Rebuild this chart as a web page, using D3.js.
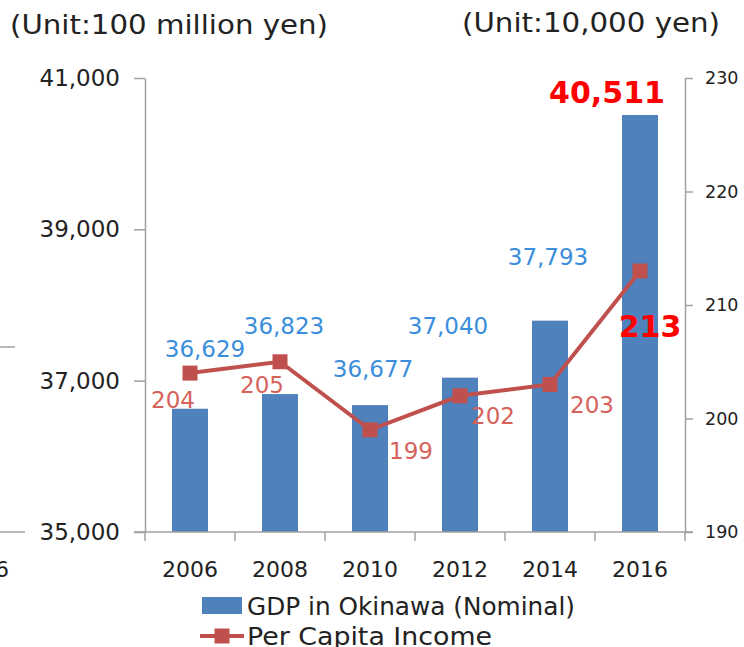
<!DOCTYPE html>
<html>
<head>
<meta charset="utf-8">
<script src="https://cdn.jsdelivr.net/npm/d3@7"></script>
<style>
  html, body { margin: 0; padding: 0; background: #fff; }
  svg { display: block; font-family: "DejaVu Sans", Verdana, sans-serif; }
</style>
</head>
<body>
<svg id="chart" width="744" height="647"></svg>
<script>
// Data
const years = ["2006", "2008", "2010", "2012", "2014", "2016"];
const gdp = [36629, 36823, 36677, 37040, 37793, 40511];      // 100 million yen
const income = [204, 205, 199, 202, 203, 213];               // 10,000 yen
const leftTicks = [35000, 37000, 39000, 41000];
const rightTicks = [190, 200, 210, 220, 230];

// hand placed label offsets (the original labels sit where excel dropped them)
const gdpLabelOff = [[15, -52], [4, -60], [3, -28], [-12, -44], [-2, -56], [-33, -12]];
const incLabelOff = [[-17, 35], [-18, 31], [41, 29], [33, 28], [42, 29], [10, 66]];

const svg = d3.select("#chart");
const axisColor = "#a0a0a0";

const x = d3.scaleBand().domain(years).range([145, 685]).paddingInner(0.6).paddingOuter(0.3);
const step = x.step();
const yL = d3.scaleLinear().domain([35000, 41000]).range([532, 78]);
const yR = d3.scaleLinear().domain([190, 230]).range([532, 78]);
const cx = d => x(d) + x.bandwidth() / 2;
const fmt = d3.format(",");

// fragment of the neighbouring chart at the left edge
svg.append("line").attr("x1", 0).attr("x2", 15).attr("y1", 347).attr("y2", 347)
  .attr("stroke", axisColor).attr("stroke-width", 1.5);
svg.append("line").attr("x1", 0).attr("x2", 25).attr("y1", 532).attr("y2", 532)
  .attr("stroke", axisColor).attr("stroke-width", 1.5);
svg.append("text").attr("x", 9).attr("y", 577).attr("text-anchor", "end")
  .attr("font-size", 22).attr("fill", "#222").text("2006");

// unit titles
svg.append("text").attr("x", 10).attr("y", 34).attr("font-size", 26).attr("fill", "#222")
  .attr("textLength", 318).attr("lengthAdjust", "spacingAndGlyphs")
  .text("(Unit:100 million yen)");
svg.append("text").attr("x", 462).attr("y", 32).attr("font-size", 26).attr("fill", "#222")
  .attr("textLength", 258).attr("lengthAdjust", "spacingAndGlyphs")
  .text("(Unit:10,000 yen)");

// bars
svg.append("g").selectAll("rect").data(years).join("rect")
  .attr("x", d => x(d))
  .attr("width", x.bandwidth())
  .attr("y", (d, i) => yL(gdp[i]))
  .attr("height", (d, i) => yL(35000) - yL(gdp[i]))
  .attr("fill", "#4f81bd");

// axes
function styleAxis(g) {
  g.selectAll("path, line").attr("stroke", axisColor).attr("stroke-width", 1.5);
  g.selectAll("text").attr("fill", "#222").attr("font-family", "DejaVu Sans, Verdana, sans-serif");
}

svg.append("g").attr("transform", "translate(145,0)")
  .call(d3.axisLeft(yL).tickValues(leftTicks).tickFormat(fmt).tickSize(11).tickSizeOuter(0).tickPadding(14))
  .call(styleAxis)
  .call(g => g.selectAll("text").attr("font-size", 23));

svg.append("g").attr("transform", "translate(685,0)")
  .call(d3.axisRight(yR).tickValues(rightTicks).tickSize(8).tickSizeOuter(0).tickPadding(12))
  .call(styleAxis)
  .call(g => g.selectAll("text").attr("font-size", 17.5));

// x axis: line plus ticks at band boundaries
const xg = svg.append("g");
xg.append("line").attr("x1", 134).attr("x2", 693).attr("y1", 532).attr("y2", 532)
  .attr("stroke", axisColor).attr("stroke-width", 1.5);
xg.selectAll("line.tk").data(d3.range(years.length + 1)).join("line").attr("class", "tk")
  .attr("x1", i => 145 + i * step).attr("x2", i => 145 + i * step)
  .attr("y1", 532).attr("y2", 541)
  .attr("stroke", axisColor).attr("stroke-width", 1.5);
xg.selectAll("text").data(years).join("text")
  .attr("x", d => cx(d)).attr("y", 577).attr("text-anchor", "middle")
  .attr("font-size", 22).attr("fill", "#222").text(d => d);

// income line
const line = d3.line().x((d, i) => cx(years[i])).y(d => yR(d));
svg.append("path").datum(income).attr("d", line)
  .attr("fill", "none").attr("stroke", "#c0504d").attr("stroke-width", 4);
svg.append("g").selectAll("rect").data(income).join("rect")
  .attr("x", (d, i) => cx(years[i]) - 7.5).attr("y", d => yR(d) - 7.5)
  .attr("width", 15).attr("height", 15).attr("fill", "#c0504d");

// gdp value labels
svg.append("g").selectAll("text").data(gdp).join("text")
  .attr("x", (d, i) => cx(years[i]) + gdpLabelOff[i][0])
  .attr("y", (d, i) => yL(d) + gdpLabelOff[i][1])
  .attr("text-anchor", "middle")
  .attr("font-size", (d, i) => i === gdp.length - 1 ? 30 : 23)
  .attr("font-weight", (d, i) => i === gdp.length - 1 ? "bold" : "normal")
  .attr("fill", (d, i) => i === gdp.length - 1 ? "#ff0000" : "#3a8edc")
  .text(d => fmt(d));

// income value labels
svg.append("g").selectAll("text").data(income).join("text")
  .attr("x", (d, i) => cx(years[i]) + incLabelOff[i][0])
  .attr("y", (d, i) => yR(d) + incLabelOff[i][1])
  .attr("text-anchor", "middle")
  .attr("font-size", (d, i) => i === income.length - 1 ? 30 : 23)
  .attr("font-weight", (d, i) => i === income.length - 1 ? "bold" : "normal")
  .attr("fill", (d, i) => i === income.length - 1 ? "#ff0000" : "#d6625c")
  .text(d => d);

// legend
const lg = svg.append("g");
lg.append("rect").attr("x", 202).attr("y", 597).attr("width", 40).attr("height", 17).attr("fill", "#4f81bd");
lg.append("text").attr("x", 247).attr("y", 615).attr("font-size", 24).attr("fill", "#222")
  .attr("textLength", 328).attr("lengthAdjust", "spacingAndGlyphs")
  .text("GDP in Okinawa (Nominal)");
lg.append("line").attr("x1", 200).attr("x2", 244).attr("y1", 636).attr("y2", 636)
  .attr("stroke", "#c0504d").attr("stroke-width", 4);
lg.append("rect").attr("x", 214.5).attr("y", 628.5).attr("width", 15).attr("height", 15).attr("fill", "#c0504d");
lg.append("text").attr("x", 247).attr("y", 645).attr("font-size", 24).attr("fill", "#222")
  .attr("textLength", 245).attr("lengthAdjust", "spacingAndGlyphs")
  .text("Per Capita Income");
</script>
</body>
</html>
